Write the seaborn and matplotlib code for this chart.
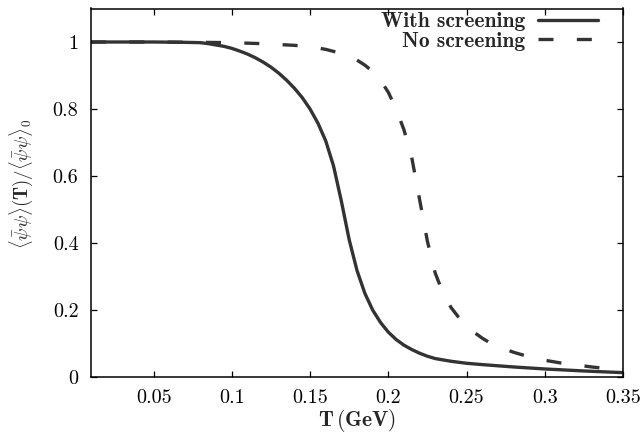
import numpy as np
import pandas as pd
import matplotlib
matplotlib.use("Agg")
import matplotlib.pyplot as plt
import seaborn as sns

# Data
t_screen = [0.01, 0.03, 0.05, 0.07, 0.08, 0.085, 0.09, 0.095, 0.10, 0.105, 0.11, 0.115,
            0.12, 0.125, 0.13, 0.135, 0.14, 0.145, 0.15, 0.155, 0.16, 0.165, 0.17,
            0.175, 0.18, 0.185, 0.19, 0.195, 0.20, 0.205, 0.21, 0.215, 0.22, 0.225,
            0.23, 0.24, 0.25, 0.26, 0.28, 0.30, 0.325, 0.35]
cond_screen = [1.0, 1.0, 1.0, 0.999, 0.998, 0.995, 0.991, 0.987, 0.981, 0.973, 0.964, 0.953,
               0.940, 0.925, 0.907, 0.886, 0.862, 0.834, 0.800, 0.758, 0.705, 0.630, 0.525,
               0.410, 0.318, 0.250, 0.200, 0.163, 0.134, 0.112, 0.095, 0.082, 0.071, 0.062,
               0.055, 0.047, 0.041, 0.037, 0.030, 0.024, 0.018, 0.013]

t_noscreen = [0.01, 0.05, 0.08, 0.10, 0.12, 0.14, 0.15, 0.16, 0.17, 0.175, 0.18, 0.185,
              0.19, 0.195, 0.20, 0.205, 0.21, 0.215, 0.22, 0.225, 0.23, 0.235, 0.24,
              0.245, 0.25, 0.255, 0.26, 0.265, 0.27, 0.28, 0.29, 0.30, 0.31, 0.32,
              0.33, 0.34, 0.35]
cond_noscreen = [1.0, 1.0, 0.999, 0.998, 0.995, 0.990, 0.986, 0.978, 0.966, 0.957, 0.946, 0.931,
                 0.912, 0.886, 0.850, 0.800, 0.738, 0.655, 0.530, 0.405, 0.310, 0.250, 0.208,
                 0.178, 0.153, 0.133, 0.116, 0.102, 0.091, 0.074, 0.060, 0.050, 0.042, 0.036,
                 0.030, 0.025, 0.021]

series_labels = ["With screening", "No screening"]
xtick_vals = [0.05, 0.1, 0.15, 0.2, 0.25, 0.3, 0.35]
xtick_labels = ["0.05", "0.1", "0.15", "0.2", "0.25", "0.3", "0.35"]
ytick_vals = [0, 0.2, 0.4, 0.6, 0.8, 1.0]
ytick_labels = ["0", "0.2", "0.4", "0.6", "0.8", "1"]

sns.set_style("ticks")
plt.rcParams["mathtext.fontset"] = "cm"

fig = plt.figure(figsize=(6.42, 4.37), dpi=100)
ax = fig.add_axes([91/642, 1 - 377/437, (623 - 91)/642, (377 - 8.5)/437])

col = "#333333"
df1 = pd.DataFrame({"T": t_screen, "c": cond_screen})
df2 = pd.DataFrame({"T": t_noscreen, "c": cond_noscreen})
sns.lineplot(data=df1, x="T", y="c", ax=ax, color=col, lw=2.4, label=series_labels[0])
sns.lineplot(data=df2, x="T", y="c", ax=ax, color=col, lw=2.4, label=series_labels[1])
ax.lines[1].set_dashes((4.5, 7))
for ln in ax.lines:
    ln.set_solid_joinstyle("round")
    ln.set_dash_joinstyle("round")

ax.set_xlim(0.01, 0.35)
ax.set_ylim(0, 1.1)
ax.set_xticks(xtick_vals)
ax.set_xticklabels(xtick_labels, fontfamily="cmr10", fontsize=14.5)
ax.set_yticks(ytick_vals)
ax.set_yticklabels(ytick_labels, fontfamily="cmr10", fontsize=14.5)
ax.tick_params(axis="x", pad=9)
ax.tick_params(axis="y", pad=9)
ax.tick_params(direction="in", length=4, width=0.9, top=True, right=True, colors="black")
for s in ax.spines.values():
    s.set_linewidth(1.1)
    s.set_color("black")

ax.set_xlabel(r"$\mathbf{T}\,(\mathbf{GeV})$", fontsize=15.5, labelpad=0)
ax.set_ylabel(r"$\langle\bar{\psi}\psi\rangle(\mathbf{T})/\langle\bar{\psi}\psi\rangle_{\mathbf{0}}$",
              fontsize=13.5)
ax.yaxis.set_label_coords(-0.105, 0.524)

ax.legend(loc="upper right", bbox_to_anchor=(0.953, 0.99), frameon=False,
          markerfirst=False, handlelength=2.8, handletextpad=0.6, labelspacing=0.02,
          borderpad=0, borderaxespad=0,
          prop={"family": "cmb10", "size": 15.5})

fig.savefig("out.png", dpi=100)
